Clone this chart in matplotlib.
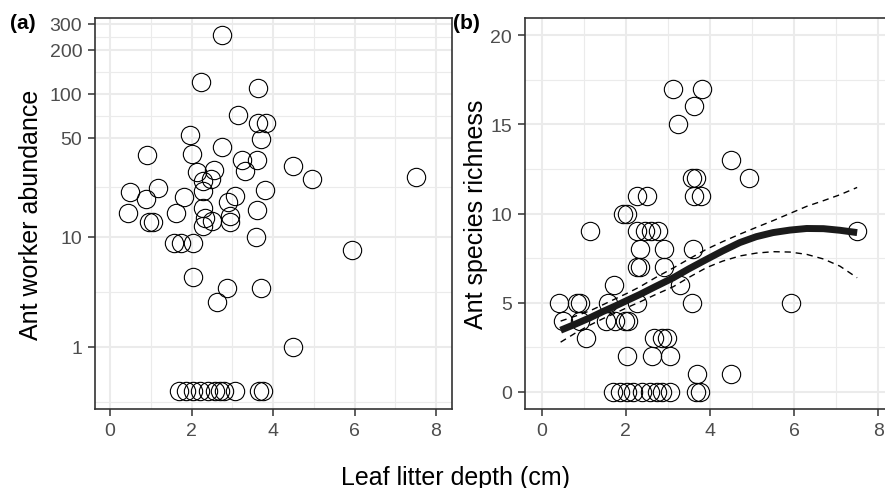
"""Ant abundance / richness vs leaf litter depth, two panels (ggplot theme_bw look)."""

import numpy as np
import matplotlib

matplotlib.use("Agg")
import matplotlib.pyplot as plt
from matplotlib.ticker import FixedLocator, NullFormatter

plt.rcParams["font.family"] = ["Liberation Sans", "DejaVu Sans"]

# --- panel (a): worker abundance (log(y + 1) axis) -------------------------
litter_a = [
    2.74, 2.23, 3.64, 3.13, 3.64, 3.82, 3.70, 1.96, 0.90, 2.00, 2.74,
    4.50, 3.25, 3.61, 3.31, 4.95, 7.51, 2.13, 2.56, 2.29, 2.47,
    0.50, 1.17, 0.87, 1.81, 2.28, 3.07, 2.90, 3.80, 0.44, 0.95, 1.05,
    1.61, 2.28, 2.34, 2.51, 2.27, 2.94, 2.94, 3.60, 3.58, 1.57, 1.73,
    2.03, 5.95,
    2.03, 2.87, 3.70, 2.63, 4.50,
    1.69, 1.86, 2.03, 2.21, 2.40, 2.57, 2.70, 2.80, 3.07, 3.66, 3.76,
]
abundance = [
    250, 120, 110, 72, 63, 63, 49, 52, 38, 39, 43,
    32, 35, 35, 29.5, 26, 27, 29, 30, 25, 26,
    21, 22.5, 18.7, 19.5, 21.5, 19.6, 18, 21.7, 14.8, 12.9, 12.9,
    14.8, 16.2, 13.7, 13, 12, 14.2, 12.9, 15.8, 10, 9, 9,
    9, 7.9,
    4.9, 3.95, 3.95, 3.0, 1,
    0, 0, 0, 0, 0, 0, 0, 0, 0, 0, 0,
]
abund_breaks = [1, 10, 50, 100, 200, 300]

# --- panel (b): species richness + fitted curve ----------------------------
litter_b = [
    3.13, 3.80, 3.63, 3.23, 4.50, 3.58, 3.68, 4.93,
    2.26, 2.50, 3.63, 3.79, 1.94, 2.04,
    1.16, 2.26, 2.45, 2.61, 2.77, 7.50,
    2.34, 2.91, 3.60, 2.26, 2.34, 2.91, 1.72, 3.29,
    0.42, 0.83, 0.91, 1.58, 2.26, 3.58, 5.92,
    0.51, 0.91, 1.54, 1.74, 1.98, 2.06,
    1.05, 2.68, 2.85, 2.97, 2.02, 2.63, 3.05, 3.70, 4.50,
    1.70, 1.86, 2.02, 2.18, 2.38, 2.57, 2.73, 2.85, 3.05, 3.68, 3.76,
]
richness = [
    17, 17, 16, 15, 13, 12, 12, 12,
    11, 11, 11, 11, 10, 10,
    9, 9, 9, 9, 9, 9,
    8, 8, 8, 7, 7, 7, 6, 6,
    5, 5, 5, 5, 5, 5, 5,
    4, 4, 4, 4, 4, 4,
    3, 3, 3, 3, 2, 2, 2, 1, 1,
    0, 0, 0, 0, 0, 0, 0, 0, 0, 0, 0,
]
fit_x = [0.45, 0.80, 1.15, 1.45, 1.78, 2.05, 2.34, 2.70, 3.13, 3.50, 3.92,
         4.30, 4.71, 5.10, 5.50, 5.90, 6.30, 6.70, 7.09, 7.50]
fit_mid = [3.46, 3.80, 4.16, 4.50, 4.85, 5.15, 5.47, 5.90, 6.40, 6.90, 7.43,
           7.90, 8.37, 8.70, 8.93, 9.07, 9.16, 9.15, 9.06, 8.93]
fit_upper = [3.97, 4.25, 4.55, 4.88, 5.25, 5.55, 5.90, 6.40, 6.95, 7.45, 8.00,
             8.42, 8.84, 9.22, 9.60, 10.00, 10.40, 10.72, 11.05, 11.46]
fit_lower = [2.79, 3.30, 3.75, 4.10, 4.45, 4.75, 5.05, 5.45, 5.90, 6.42, 6.97,
             7.33, 7.62, 7.78, 7.86, 7.84, 7.71, 7.45, 7.05, 6.40]

W, H = 885, 489
GRID = "#EBEBEB"
DARK = "#333333"
TICKTXT = "#4D4D4D"


def _box(left, top, right, bottom):
    return [left / W, 1 - bottom / H, (right - left) / W, (bottom - top) / H]


def _fwd(v):
    return np.log10(np.maximum(np.asarray(v, dtype=float), -0.999) + 1.0)


def _inv(t):
    return 10.0 ** np.asarray(t, dtype=float) - 1.0


def _theme_bw(ax):
    ax.set_facecolor("white")
    ax.set_axisbelow(True)
    for sp in ax.spines.values():
        sp.set_color(DARK)
        sp.set_linewidth(1.2)
    ax.grid(which="major", color=GRID, lw=1.5)
    ax.grid(which="minor", color=GRID, lw=0.8)
    ax.tick_params(which="major", direction="out", length=4.7, width=1.1,
                   color=DARK, labelcolor=TICKTXT, labelsize=14, pad=4.5)
    ax.tick_params(which="minor", length=0)
    ax.xaxis.set_major_locator(FixedLocator([0, 2, 4, 6, 8]))
    ax.xaxis.set_minor_locator(FixedLocator([1, 3, 5, 7]))


def _points(ax, x, y):
    ax.plot(x, y, ls="none", marker="o", ms=13.2, mfc="none",
            mec="black", mew=0.8, zorder=3)


fig = plt.figure(figsize=(W / 100, H / 100), dpi=100)
fig.patch.set_facecolor("white")

# (a)
ax_a = fig.add_axes(_box(95, 19, 451.7, 410))
ax_a.set_yscale("function", functions=(_fwd, _inv))
_theme_bw(ax_a)
_points(ax_a, litter_a, abundance)
ax_a.set_xlim(-0.37, 8.385)
ax_a.set_ylim(_inv(-0.119), _inv(2.516))
t_major = _fwd(abund_breaks)
t_ext = np.concatenate([[t_major[0] - (t_major[1] - t_major[0])], t_major])
ax_a.yaxis.set_major_locator(FixedLocator(abund_breaks))
ax_a.set_yticklabels([str(b) for b in abund_breaks])
ax_a.yaxis.set_minor_locator(FixedLocator(_inv((t_ext[:-1] + t_ext[1:]) / 2)))
ax_a.yaxis.set_minor_formatter(NullFormatter())

# (b)
ax_b = fig.add_axes(_box(525, 19, 895, 410))
_theme_bw(ax_b)
_points(ax_b, litter_b, richness)
ax_b.plot(fit_x, fit_upper, color="black", lw=1.0, dashes=(4.5, 3.5), zorder=4)
ax_b.plot(fit_x, fit_lower, color="black", lw=1.0, dashes=(4.5, 3.5), zorder=4)
ax_b.plot(fit_x, fit_mid, color="#1a1a1a", lw=5.0, solid_capstyle="butt",
          solid_joinstyle="round", zorder=5)
ax_b.set_xlim(-0.397, 8.4)
ax_b.set_ylim(-0.955, 20.955)
ax_b.yaxis.set_major_locator(FixedLocator([0, 5, 10, 15, 20]))
ax_b.yaxis.set_minor_locator(FixedLocator([2.5, 7.5, 12.5, 17.5]))

# titles and tags
fig.text(38 / W, 1 - 214.5 / H, "Ant worker abundance", rotation=90,
         rotation_mode="anchor", ha="center", va="baseline", fontsize=18)
fig.text(482.7 / W, 1 - 214.5 / H, "Ant species richness", rotation=90,
         rotation_mode="anchor", ha="center", va="baseline", fontsize=18)
fig.text(455 / W, 1 - 485 / H, "Leaf litter depth (cm)",
         ha="center", va="baseline", fontsize=18)
fig.text(10 / W, 1 - 29.3 / H, "(a)", ha="left", va="baseline",
         fontsize=15, fontweight="bold")
fig.text(453 / W, 1 - 29.3 / H, "(b)", ha="left", va="baseline",
         fontsize=15, fontweight="bold")

fig.savefig("out.png", dpi=100, facecolor="white")
